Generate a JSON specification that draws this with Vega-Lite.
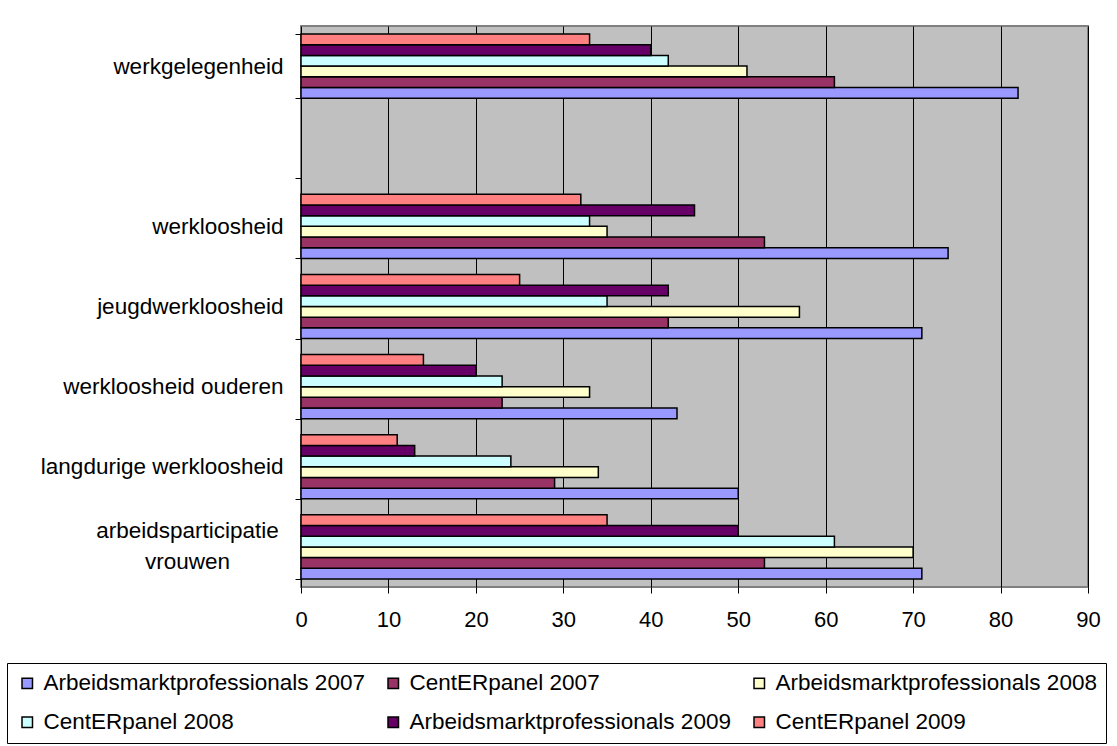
{
  "$schema": "https://vega.github.io/schema/vega-lite/v6.json",
  "width": 787,
  "height": 561,
  "autosize": {"type": "none"},
  "padding": {"left": 301, "top": 26, "right": 29, "bottom": 159},
  "background": "white",
  "config": {
    "font": "Liberation Sans",
    "view": {"fill": "#C0C0C0", "stroke": "#808080", "strokeWidth": 2}
  },
  "data": {
    "values": [
      {"category": "werkgelegenheid", "series": "Arbeidsmarktprofessionals 2007", "value": 82},
      {"category": "werkgelegenheid", "series": "CentERpanel 2007", "value": 61},
      {"category": "werkgelegenheid", "series": "Arbeidsmarktprofessionals 2008", "value": 51},
      {"category": "werkgelegenheid", "series": "CentERpanel 2008", "value": 42},
      {"category": "werkgelegenheid", "series": "Arbeidsmarktprofessionals 2009", "value": 40},
      {"category": "werkgelegenheid", "series": "CentERpanel 2009", "value": 33},
      {"category": "werkloosheid", "series": "Arbeidsmarktprofessionals 2007", "value": 74},
      {"category": "werkloosheid", "series": "CentERpanel 2007", "value": 53},
      {"category": "werkloosheid", "series": "Arbeidsmarktprofessionals 2008", "value": 35},
      {"category": "werkloosheid", "series": "CentERpanel 2008", "value": 33},
      {"category": "werkloosheid", "series": "Arbeidsmarktprofessionals 2009", "value": 45},
      {"category": "werkloosheid", "series": "CentERpanel 2009", "value": 32},
      {"category": "jeugdwerkloosheid", "series": "Arbeidsmarktprofessionals 2007", "value": 71},
      {"category": "jeugdwerkloosheid", "series": "CentERpanel 2007", "value": 42},
      {"category": "jeugdwerkloosheid", "series": "Arbeidsmarktprofessionals 2008", "value": 57},
      {"category": "jeugdwerkloosheid", "series": "CentERpanel 2008", "value": 35},
      {"category": "jeugdwerkloosheid", "series": "Arbeidsmarktprofessionals 2009", "value": 42},
      {"category": "jeugdwerkloosheid", "series": "CentERpanel 2009", "value": 25},
      {"category": "werkloosheid ouderen", "series": "Arbeidsmarktprofessionals 2007", "value": 43},
      {"category": "werkloosheid ouderen", "series": "CentERpanel 2007", "value": 23},
      {"category": "werkloosheid ouderen", "series": "Arbeidsmarktprofessionals 2008", "value": 33},
      {"category": "werkloosheid ouderen", "series": "CentERpanel 2008", "value": 23},
      {"category": "werkloosheid ouderen", "series": "Arbeidsmarktprofessionals 2009", "value": 20},
      {"category": "werkloosheid ouderen", "series": "CentERpanel 2009", "value": 14},
      {"category": "langdurige werkloosheid", "series": "Arbeidsmarktprofessionals 2007", "value": 50},
      {"category": "langdurige werkloosheid", "series": "CentERpanel 2007", "value": 29},
      {"category": "langdurige werkloosheid", "series": "Arbeidsmarktprofessionals 2008", "value": 34},
      {"category": "langdurige werkloosheid", "series": "CentERpanel 2008", "value": 24},
      {"category": "langdurige werkloosheid", "series": "Arbeidsmarktprofessionals 2009", "value": 13},
      {"category": "langdurige werkloosheid", "series": "CentERpanel 2009", "value": 11},
      {"category": "arbeidsparticipatie vrouwen", "series": "Arbeidsmarktprofessionals 2007", "value": 71},
      {"category": "arbeidsparticipatie vrouwen", "series": "CentERpanel 2007", "value": 53},
      {"category": "arbeidsparticipatie vrouwen", "series": "Arbeidsmarktprofessionals 2008", "value": 70},
      {"category": "arbeidsparticipatie vrouwen", "series": "CentERpanel 2008", "value": 61},
      {"category": "arbeidsparticipatie vrouwen", "series": "Arbeidsmarktprofessionals 2009", "value": 50},
      {"category": "arbeidsparticipatie vrouwen", "series": "CentERpanel 2009", "value": 35}
    ]
  },
  "mark": {"type": "bar", "stroke": "black", "strokeWidth": 1.5},
  "encoding": {
    "y": {
      "field": "category",
      "type": "nominal",
      "title": null,
      "scale": {
        "domain": ["werkgelegenheid", " ", "werkloosheid", "jeugdwerkloosheid", "werkloosheid ouderen", "langdurige werkloosheid", "arbeidsparticipatie vrouwen"],
        "paddingInner": 0.2,
        "paddingOuter": 0.1
      },
      "axis": {
        "domain": false,
        "tickBand": "extent",
        "tickColor": "black",
        "tickSize": 6,
        "labelFontSize": 22.5,
        "labelColor": "black",
        "labelLimit": 400,
        "labelLineHeight": 31,
        "labelAlign": {"condition": {"test": "datum.value == 'arbeidsparticipatie vrouwen'", "value": "center"}, "value": "right"},
        "labelPadding": {"condition": {"test": "datum.value == 'arbeidsparticipatie vrouwen'", "value": 108}, "value": 12},
        "labelOffset": {"condition": {"test": "datum.value == 'arbeidsparticipatie vrouwen'", "value": -16}, "value": 0},
        "labelExpr": "datum.value == 'arbeidsparticipatie vrouwen' ? ['arbeidsparticipatie', 'vrouwen'] : datum.value"
      }
    },
    "yOffset": {
      "field": "series",
      "type": "nominal",
      "scale": {
        "domain": ["CentERpanel 2009", "Arbeidsmarktprofessionals 2009", "CentERpanel 2008", "Arbeidsmarktprofessionals 2008", "CentERpanel 2007", "Arbeidsmarktprofessionals 2007"],
        "paddingInner": 0,
        "paddingOuter": 0
      }
    },
    "x": {
      "field": "value",
      "type": "quantitative",
      "title": null,
      "scale": {"domain": [0, 90], "nice": false},
      "axis": {
        "values": [0, 10, 20, 30, 40, 50, 60, 70, 80, 90],
        "grid": true,
        "gridColor": "black",
        "gridWidth": 1,
        "gridOpacity": 1,
        "domain": false,
        "tickColor": "black",
        "tickSize": 6,
        "labelPadding": 16,
        "labelFontSize": 22,
        "labelColor": "black",
        "labelFlush": false
      }
    },
    "color": {
      "field": "series",
      "type": "nominal",
      "scale": {
        "domain": ["Arbeidsmarktprofessionals 2007", "CentERpanel 2007", "Arbeidsmarktprofessionals 2008", "CentERpanel 2008", "Arbeidsmarktprofessionals 2009", "CentERpanel 2009"],
        "range": ["#9999FF", "#993366", "#FFFFCC", "#CCFFFF", "#660066", "#FF8080"]
      },
      "legend": {
        "title": null,
        "orient": "none",
        "legendX": -294,
        "legendY": 637,
        "direction": "horizontal",
        "columns": 3,
        "strokeColor": "black",
        "fillColor": "white",
        "padding": 9,
        "columnPadding": 17,
        "rowPadding": 16,
        "labelFontSize": 22.5,
        "labelColor": "black",
        "labelLimit": 500,
        "labelOffset": 5,
        "symbolType": "square",
        "symbolSize": 110,
        "symbolStrokeColor": "black",
        "symbolStrokeWidth": 1.5,
        "symbolOpacity": 1
      }
    }
  }
}
